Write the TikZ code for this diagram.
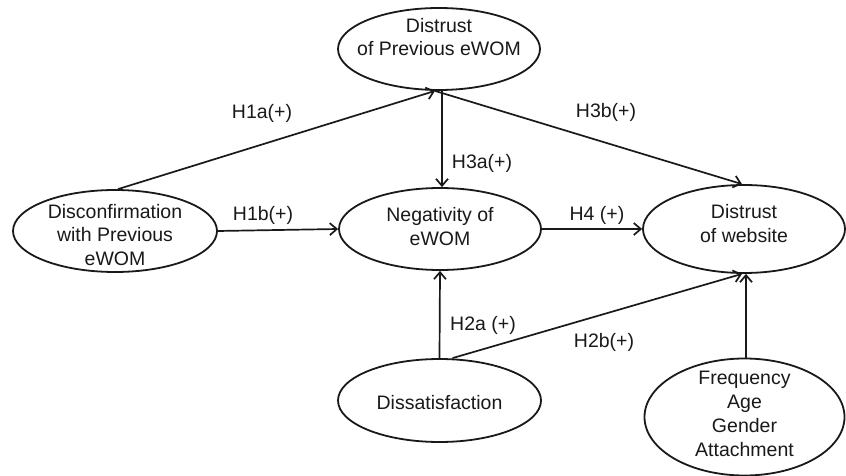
\documentclass[tikz,border=0pt]{standalone}
\usepackage{fontspec}
\setmainfont{Liberation Sans}
\usetikzlibrary{shapes.geometric,arrows.meta}
\tikzset{
  oval/.style={draw=black!90, line width=1.8pt, ellipse, inner sep=0pt, fill=white},
  lbl/.style={align=center, inner sep=0pt, font=\fontsize{19.5}{23.5}\selectfont, text=black!90},
  hyp/.style={inner sep=0pt, font=\fontsize{19.5}{23.5}\selectfont, text=black!90},
  link/.style={draw=black!90, line width=1.7pt, -{Straight Barb[length=7pt,width=12pt]}},
}
\begin{document}
\begin{tikzpicture}[x=1pt,y=-1pt]
\useasboundingbox (0,0) rectangle (846,476);
% ovals
\node[oval, minimum width=202pt, minimum height=82pt,
  label={[lbl,yshift=12pt]center:{Distrust\\of Previous eWOM}}] (T) at (439,49) {};
\node[oval, minimum width=204pt, minimum height=82pt,
  label={[lbl,yshift=-4pt]center:{Disconfirmation\\with Previous\\eWOM}}] (L) at (115,231) {};
\node[oval, minimum width=202pt, minimum height=82pt,
  label={[lbl,yshift=2.5pt]center:{Negativity of\\eWOM}}] (M) at (440,229) {};
\node[oval, minimum width=202pt, minimum height=88pt,
  label={[lbl,yshift=5.5pt]center:{Distrust\\of website}}] (R) at (744,229) {};
\node[oval, minimum width=203pt, minimum height=83pt,
  label={[lbl,yshift=-2pt]center:{Dissatisfaction}}] (D) at (439.5,400.5) {};
\node[oval, minimum width=200pt, minimum height=117pt,
  label={[lbl,font=\fontsize{19.5}{24.2}\selectfont,yshift=3pt]center:{Frequency\\Age\\Gender\\Attachment}}] (F) at (744.5,417) {};
% connectors
\draw[link] (L.north) ++(3,0) coordinate (l1) -- ([xshift=-4pt]T.south);
\draw[link] ([xshift=-4pt]T.south) -- ([xshift=-2pt]R.north);
\draw[link] ([xshift=3pt]T.south) -- ([xshift=2pt]M.north);
\draw[link] (L.east) -- (M.west);
\draw[link] (M.east) -- (R.west);
\draw[link] (D.north) -- (M.south);
\draw[link] ([xshift=13pt]D.north) -- ([xshift=-2pt]R.south);
\draw[link] ([xshift=1.5pt]F.north) -- ([xshift=2pt]R.south);
% hypothesis labels
\node[hyp] (h1a) at (262,113) {H1a(+)};
\node[hyp] (h3b) at (606,112) {H3b(+)};
\node[hyp] (h3a) at (482,163) {H3a(+)};
\node[hyp] (h1b) at (263,215) {H1b(+)};
\node[hyp] (h4) at (597,215) {H4 (+)};
\node[hyp] (h2a) at (483,325) {H2a (+)};
\node[hyp] (h2b) at (604,342) {H2b(+)};
\end{tikzpicture}
\end{document}
